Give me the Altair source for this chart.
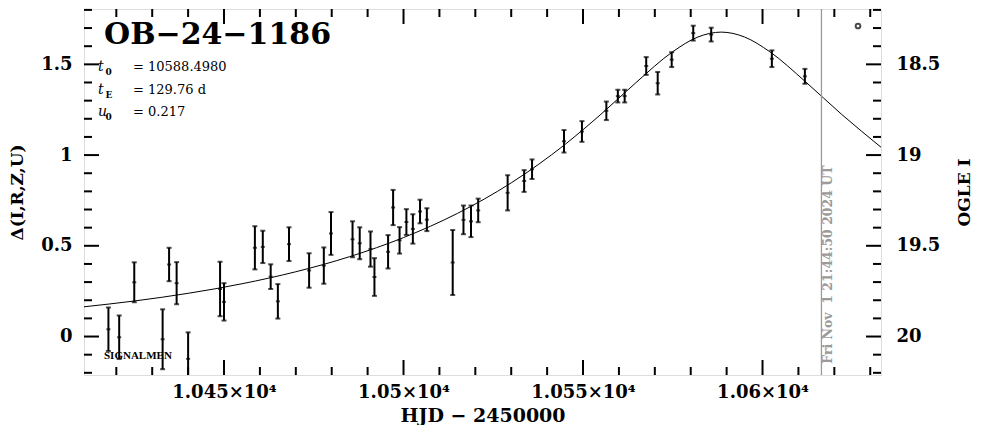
import altair as alt
import pandas as pd

# ---------------- data ----------------
hjd = [10417.8, 10420.8, 10425.0, 10432.9, 10434.7, 10436.8, 10440.0, 10448.9, 10450.0,
       10458.6, 10460.8, 10463.0, 10465.0, 10468.1, 10473.7, 10477.8, 10479.8, 10485.8,
       10487.8, 10490.8, 10491.9, 10495.7, 10497.1, 10498.9, 10500.8, 10502.6, 10504.6,
       10506.5, 10513.7, 10516.7, 10518.8, 10520.8, 10529.0, 10533.6, 10535.8, 10544.7,
       10549.7, 10556.5, 10559.7, 10561.6, 10567.6, 10570.8, 10574.7, 10580.7, 10585.7,
       10602.6, 10611.8]
delta = [0.040, -0.004, 0.299, -0.015, 0.397, 0.294, -0.123, 0.262, 0.191,
         0.489, 0.494, 0.330, 0.194, 0.509, 0.364, 0.391, 0.568, 0.536,
         0.514, 0.482, 0.328, 0.467, 0.711, 0.530, 0.631, 0.593, 0.689,
         0.644, 0.408, 0.643, 0.635, 0.695, 0.792, 0.857, 0.922, 1.076,
         1.130, 1.244, 1.325, 1.325, 1.491, 1.396, 1.526, 1.672, 1.664,
         1.531, 1.434]
err = [0.120, 0.120, 0.110, 0.165, 0.092, 0.116, 0.146, 0.150, 0.103,
       0.119, 0.089, 0.068, 0.095, 0.093, 0.095, 0.100, 0.118, 0.099,
       0.088, 0.097, 0.104, 0.092, 0.097, 0.073, 0.071, 0.081, 0.065,
       0.063, 0.179, 0.079, 0.087, 0.065, 0.097, 0.060, 0.054, 0.062,
       0.057, 0.051, 0.035, 0.035, 0.049, 0.062, 0.041, 0.041, 0.038,
       0.046, 0.041]

model_hjd = [10411.0, 10425.0, 10440.0, 10455.0, 10470.0, 10485.0, 10500.0, 10515.0,
             10530.0, 10545.0, 10555.0, 10565.0, 10575.0, 10582.0, 10588.5, 10595.0,
             10602.0, 10612.0, 10622.0, 10633.0]
model_delta = [0.1638, 0.1958, 0.2381, 0.2908, 0.3570, 0.4402, 0.5453, 0.6784,
               0.8469, 1.0587, 1.2250, 1.4037, 1.5697, 1.6506, 1.6777, 1.6506,
               1.5697, 1.4037, 1.2250, 1.0432]

x_major = [10450, 10500, 10550, 10600]
x_minor = [10420, 10430, 10440, 10460, 10470, 10480, 10490, 10510, 10520, 10530,
           10540, 10560, 10570, 10580, 10590, 10610, 10620, 10630]
y_major = [0, 0.5, 1, 1.5]
y_minor = [-0.2, -0.1, 0.1, 0.2, 0.3, 0.4, 0.6, 0.7, 0.8, 0.9, 1.1, 1.2, 1.3, 1.4,
           1.6, 1.7, 1.8]
x_domain = [10411.0, 10633.0]
y_domain = [-0.212, 1.805]

event_name = "OB\u221224\u22121186"
param_symbols = ["t", "t", "u"]
param_subscripts = ["0", "E", "0"]
param_values = ["= 10588.4980", "= 129.76 d", "= 0.217"]
now_hjd = 10616.41
now_label = "Fri Nov \u00a01 21:44:50 2024 UT"
now_label_delta = -0.15
source_label = "SIGNALMEN"

# ---------------- layout / style ----------------
W, H = 797, 366
SERIF = "DejaVu Serif"
GRAY = "#9a9a9a"
TICK_COLOR = "black"
MAJ, MIN = 15, 8

df = pd.DataFrame({"hjd": hjd, "delta": delta, "err": err})
df["lo"] = df["delta"] - df["err"]
df["hi"] = df["delta"] + df["err"]
model = pd.DataFrame({"hjd": model_hjd, "delta": model_delta})

xs = alt.Scale(domain=x_domain, nice=False, zero=False)
ys = alt.Scale(domain=y_domain, nice=False, zero=False)

lab = dict(domain=False, grid=False, ticks=False,
           labelFont=SERIF, labelFontSize=18, labelFontWeight="bold",
           labelColor="black", titleFont=SERIF, titleFontWeight="bold",
           titleColor="black")

ax_left = alt.Axis(orient="left", values=y_major, title="\u0394(I,R,Z,U)",
                   format="~g", labelPadding=12, titleFontSize=17,
                   titlePadding=14, **lab)
ax_right = alt.Axis(orient="right", values=y_major, title="OGLE I",
                    labelExpr="format(20 - datum.value, '~g')", labelPadding=15,
                    titleFontSize=17, titlePadding=34, titleAngle=270, **lab)
ax_bottom = alt.Axis(orient="bottom", values=x_major, title="HJD \u2212 2450000",
                     labelExpr="format(datum.value / 10000, '.4~f') + '\u00d710\u2074'",
                     labelPadding=8, titleFontSize=19, titlePadding=5, **lab)

bars = alt.Chart(df).mark_rule(color="black", strokeWidth=2, clip=True).encode(
    x=alt.X("hjd:Q", scale=xs, axis=ax_bottom),
    y=alt.Y("lo:Q", scale=ys, axis=ax_left),
    y2="hi:Q",
)
caps_lo = alt.Chart(df).mark_tick(orient="horizontal", color="black", size=5,
                                  thickness=2, clip=True).encode(
    x=alt.X("hjd:Q", scale=xs, axis=None),
    y=alt.Y("lo:Q", scale=ys, axis=None),
)
caps_hi = alt.Chart(df).mark_tick(orient="horizontal", color="black", size=5,
                                  thickness=2, clip=True).encode(
    x=alt.X("hjd:Q", scale=xs, axis=None),
    y=alt.Y("hi:Q", scale=ys, axis=None),
)
centers = alt.Chart(df).mark_tick(orient="horizontal", color="black", size=4,
                                  thickness=2, clip=True).encode(
    x=alt.X("hjd:Q", scale=xs, axis=None),
    y=alt.Y("delta:Q", scale=ys, axis=None),
)
curve = alt.Chart(model).mark_line(color="black", strokeWidth=1,
                                   interpolate="monotone", clip=True).encode(
    x=alt.X("hjd:Q", scale=xs, axis=None),
    y=alt.Y("delta:Q", scale=ys, axis=ax_right),
)


# inward-pointing frame ticks, placed through the shared scales
def xticks(values, size, at_top):
    y0, y1 = (0, size) if at_top else (H - size, H)
    return alt.Chart(pd.DataFrame({"v": values})).mark_rule(
        strokeWidth=2, color=TICK_COLOR).encode(
        x=alt.X("v:Q", scale=xs, axis=None),
        y=alt.value(y0), y2=alt.value(y1))


def yticks(values, size, at_left):
    x0, x1 = (0, size) if at_left else (W - size, W)
    return alt.Chart(pd.DataFrame({"v": values})).mark_rule(
        strokeWidth=2, color=TICK_COLOR).encode(
        y=alt.Y("v:Q", scale=ys, axis=None),
        x=alt.value(x0), x2=alt.value(x1))


tick_layers = [
    xticks(x_major, MAJ, True), xticks(x_minor, MIN, True),
    xticks(x_major, MAJ, False), xticks(x_minor, MIN, False),
    yticks(y_major, MAJ, True), yticks(y_minor, MIN, True),
    yticks(y_major, MAJ, False), yticks(y_minor, MIN, False),
]

now_df = pd.DataFrame({"hjd": [now_hjd], "delta": [now_label_delta],
                       "label": [now_label]})
now_rule = alt.Chart(now_df).mark_rule(color=GRAY, strokeWidth=1.3).encode(
    x=alt.X("hjd:Q", scale=xs, axis=None))
now_text = alt.Chart(now_df).mark_text(
    angle=270, align="left", baseline="middle", dy=7, font=SERIF, fontSize=12.5,
    fontWeight="bold", color=GRAY).encode(
    x=alt.X("hjd:Q", scale=xs, axis=None),
    y=alt.Y("delta:Q", scale=ys, axis=None),
    text="label:N")

title_text = alt.Chart(pd.DataFrame({"s": [event_name]})).mark_text(
    align="left", baseline="alphabetic", font=SERIF, fontSize=30,
    fontWeight="bold", color="black").encode(
    text="s:N", x=alt.value(20), y=alt.value(35))

param_layers = []
for i in range(3):
    yb = 62 + 22.5 * i
    pdf = pd.DataFrame({"sym": [param_symbols[i]], "sub": [param_subscripts[i]],
                        "val": [param_values[i]]})
    param_layers.append(alt.Chart(pdf).mark_text(
        align="left", baseline="alphabetic", font=SERIF, fontSize=14,
        fontStyle="italic", color="black").encode(
        text="sym:N", x=alt.value(14), y=alt.value(yb)))
    param_layers.append(alt.Chart(pdf).mark_text(
        align="left", baseline="alphabetic", font=SERIF, fontSize=9,
        fontWeight="bold", color="black").encode(
        text="sub:N", x=alt.value(21.5), y=alt.value(yb + 4)))
    param_layers.append(alt.Chart(pdf).mark_text(
        align="left", baseline="alphabetic", font=SERIF, fontSize=13,
        color="black").encode(
        text="val:N", x=alt.value(49), y=alt.value(yb)))

src_text = alt.Chart(pd.DataFrame({"s": [source_label]})).mark_text(
    align="left", baseline="alphabetic", font="Liberation Serif", fontSize=11,
    fontWeight="bold", color="black").encode(
    text="s:N", x=alt.value(20), y=alt.value(H - 16))

marker = alt.Chart(pd.DataFrame({"s": ["o"]})).mark_point(
    shape="circle", filled=False, size=22, strokeWidth=2, color="black").encode(
    x=alt.value(W - 23), y=alt.value(17))

chart = alt.layer(
    *tick_layers, bars, caps_lo, caps_hi, centers, curve, now_rule, now_text,
    title_text, *param_layers, src_text, marker,
).resolve_axis(x="independent", y="independent").properties(
    width=W, height=H,
    padding={"left": 0, "top": 0, "right": 0, "bottom": 0},
).configure_view(stroke="black", strokeWidth=2).configure(background="white")

chart.save("out.html", embed_options={"renderer": "svg", "actions": False})
